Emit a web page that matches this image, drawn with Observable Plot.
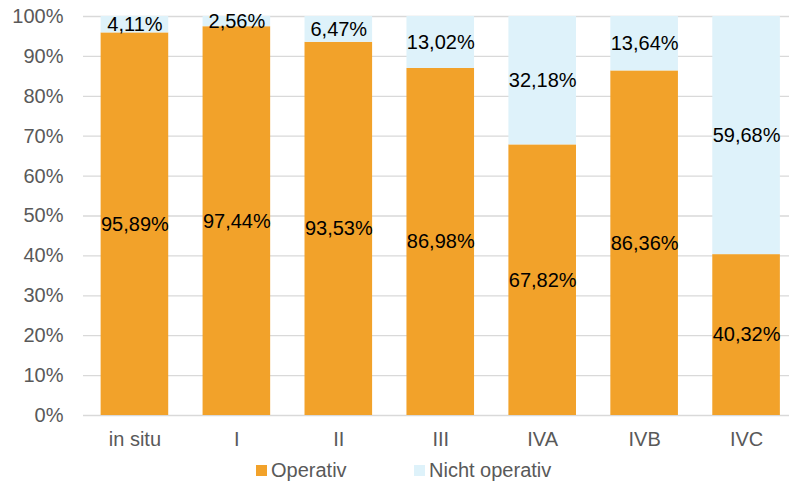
<!DOCTYPE html>
<html>
<head>
<meta charset="utf-8">
<script src="https://cdn.jsdelivr.net/npm/d3@7"></script>
<script src="https://cdn.jsdelivr.net/npm/@observablehq/plot@0.6"></script>
<style>
  html, body { margin: 0; padding: 0; background: #fff; }
  body { width: 789px; height: 485px; overflow: hidden; font-family: "Liberation Sans", Arial, sans-serif; }
  #legend { font-size: 20px; color: #595959; }
  .item { display: flex; align-items: center; position: absolute; line-height: 24px; }
  .sw { width: 11px; height: 11px; margin-right: 4px; }
</style>
</head>
<body>
<div id="chart"></div>
<div id="legend"></div>
<script>
const categories = ["in situ", "I", "II", "III", "IVA", "IVB", "IVC"];
const operativ = [95.89, 97.44, 93.53, 86.98, 67.82, 86.36, 40.32];
const nichtOperativ = [4.11, 2.56, 6.47, 13.02, 32.18, 13.64, 59.68];
const seriesNames = ["Operativ", "Nicht operativ"];
const seriesColors = ["#F2A22A", "#DEF2FA"];
const yTicks = [0, 10, 20, 30, 40, 50, 60, 70, 80, 90, 100];

const data = [];
categories.forEach((c, i) => {
  data.push({cat: c, series: seriesNames[0], value: operativ[i]});
  data.push({cat: c, series: seriesNames[1], value: nichtOperativ[i]});
});
const fmt = v => v.toFixed(2).replace(".", ",") + "%";

const chart = Plot.plot({
  width: 789,
  height: 452,
  marginTop: 16,
  marginBottom: 37,
  marginLeft: 83,
  marginRight: 0,
  style: {fontFamily: "'Liberation Sans', Arial, sans-serif", fontSize: "20px", background: "#fff"},
  x: {domain: categories, range: [83.5, 797], paddingInner: 0.337, paddingOuter: 0.168, round: false, label: null},
  y: {domain: [0, 100], ticks: yTicks, label: null},
  color: {domain: seriesNames, range: seriesColors},
  marks: [
    Plot.gridY(yTicks, {stroke: "#D9D9D9", strokeOpacity: 1, strokeWidth: 1.3}),
    Plot.barY(data, Plot.stackY({x: "cat", y: "value", z: "series", fill: "series", order: seriesNames})),
    Plot.text(data, Plot.stackY({x: "cat", y: "value", z: "series", text: d => fmt(d.value), order: seriesNames, fill: "#000", fontSize: 20})),
    Plot.axisY(yTicks, {tickSize: 0, tickPadding: 20, tickFormat: d => d + "%", fill: "#595959", fontSize: 20, label: null}),
    Plot.axisX({tickSize: 0, tickPadding: 16, fill: "#595959", fontSize: 20, label: null})
  ]
});
document.getElementById("chart").appendChild(chart);

const legend = document.getElementById("legend");
const legendX = [256, 414];
seriesNames.forEach((s, i) => {
  const item = document.createElement("div");
  item.className = "item";
  item.style.left = legendX[i] + "px";
  item.style.top = "458px";
  const sw = document.createElement("span");
  sw.className = "sw";
  sw.style.background = seriesColors[i];
  const t = document.createElement("span");
  t.textContent = s;
  item.appendChild(sw);
  item.appendChild(t);
  legend.appendChild(item);
});
</script>
</body>
</html>
